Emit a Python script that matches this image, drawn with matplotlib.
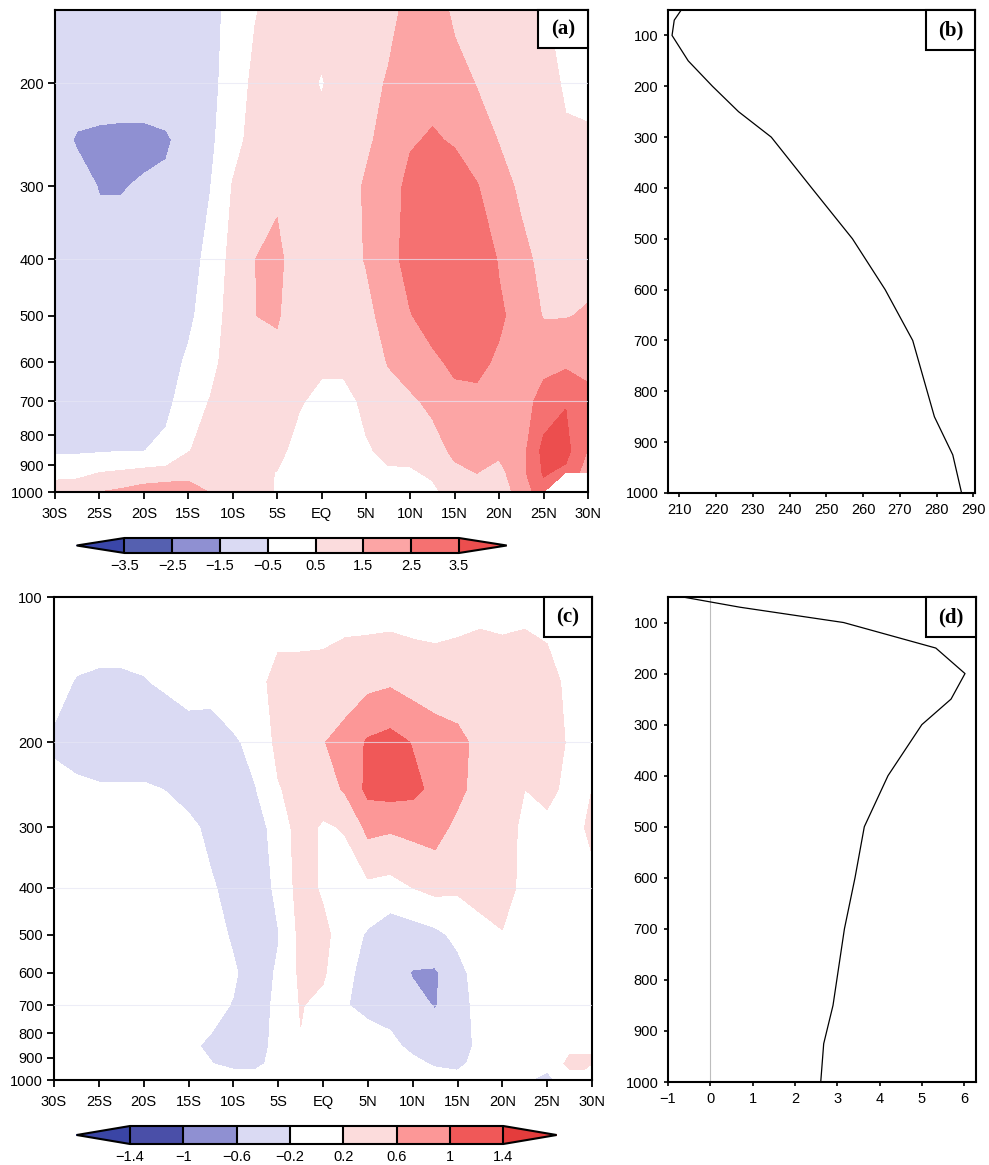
import numpy as np
import matplotlib
matplotlib.use('Agg')
import matplotlib.pyplot as plt
from matplotlib import colors as mcolors
from matplotlib.patches import Rectangle

plt.rcParams['font.family'] = ['Liberation Sans', 'DejaVu Sans']
plt.rcParams['axes.linewidth'] = 1.5

nan = np.nan

# latitude grid, 30S..30N every 2.5 deg
lats = [-30, -27.5, -25, -22.5, -20, -17.5, -15, -12.5, -10, -7.5, -5, -2.5, 0,
        2.5, 5, 7.5, 10, 12.5, 15, 17.5, 20, 22.5, 25, 27.5, 30]
lat_ticks = [-30, -25, -20, -15, -10, -5, 0, 5, 10, 15, 20, 25, 30]
lat_labels = ['30S', '25S', '20S', '15S', '10S', '5S', 'EQ', '5N', '10N', '15N', '20N', '25N', '30N']

# panel (a): one row per latitude, values at lev_a
lev_a = [150, 200, 250, 300, 400, 500, 600, 700, 850, 925, 1000]
field_a = [
    [-1.0, -1.0, -1.1, -1.0, -1.0, -1.0, -1.0, -0.9, -0.7, 0.37, 0.7],
    [-1.0, -1.0, -1.6, -1.1, -1.0, -1.0, -1.0, -0.9, -0.65, 0.3, 0.9],
    [-1.0, -1.0, -1.7, -1.55, -1.1, -1.0, -1.0, -0.9, -0.6, 0.48, 1.5],
    [-1.0, -1.0, -1.75, -1.55, -1.1, -1.0, -1.0, -0.9, -0.53, 0.6, 1.7],
    [-1.0, -1.0, -1.75, -1.4, -1.1, -1.0, -1.0, -0.85, -0.52, 0.75, 2.0],
    [-1.0, -1.05, -1.6, -1.35, -1.1, -1.0, -0.9, -0.75, -0.25, 0.8, 2.2],
    [-1.0, -1.0, -1.2, -1.1, -0.9, -0.7, -0.35, 0.0, 0.45, 1.1, 2.0],
    [-0.9, -0.8, -0.7, -0.52, -0.2, 0.0, 0.2, 0.55, 0.9, 1.1, 1.45],
    [-0.1, 0.0, 0.2, 0.55, 0.8, 0.9, 1.0, 1.0, 1.0, 1.0, 1.0],
    [0.45, 0.7, 0.8, 0.9, 1.49, 1.49, 1.0, 0.9, 0.8, 0.7, 0.6],
    [0.8, 0.9, 1.0, 1.3, 1.8, 1.6, 1.2, 1.0, 0.8, 0.47, 0.48],
    [0.9, 0.9, 0.9, 0.9, 0.8, 0.9, 0.9, 0.6, 0.1, 0.0, 0.0],
    [0.9, 0.42, 0.9, 0.9, 0.9, 0.9, 0.7, 0.2, 0.0, 0.0, 0.0],
    [1.0, 1.0, 1.0, 1.1, 1.1, 1.0, 0.7, 0.2, 0.1, 0.0, 0.0],
    [1.0, 1.1, 1.35, 1.6, 1.55, 1.2, 0.9, 0.7, 0.4, 0.2, 0.2],
    [1.2, 1.6, 1.8, 2.0, 2.1, 1.9, 1.55, 1.1, 0.7, 0.4, 0.3],
    [1.8, 2.0, 2.4, 2.8, 2.9, 2.45, 1.9, 1.35, 0.8, 0.4, 0.35],
    [2.0, 2.2, 2.6, 3.0, 3.1, 2.9, 2.3, 1.7, 1.1, 0.65, 0.3],
    [1.3, 1.9, 2.4, 3.0, 3.3, 3.2, 2.7, 2.2, 1.7, 1.3, 0.9],
    [1.0, 1.45, 2.0, 2.55, 3.3, 3.2, 2.8, 2.2, 1.8, 1.52, 1.1],
    [0.9, 1.1, 1.45, 1.9, 2.4, 2.7, 2.3, 2.0, 1.7, 1.2, 1.1],
    [0.9, 1.0, 1.1, 1.3, 1.8, 2.0, 2.0, 2.0, 2.1, 2.2, 1.8],
    [0.55, 0.8, 0.9, 1.0, 1.2, 1.45, 2.2, 2.9, 3.8, 3.6, 3.2],
    [0.3, 0.4, 0.6, 0.8, 1.2, 1.45, 2.3, 3.45, 3.8, 3.3, nan],
    [0.2, 0.3, 0.6, 0.9, 1.2, 1.6, 2.2, 2.8, 2.45, 2.0, nan],
]

# panel (c): one row per latitude, values at lev_c
lev_c = [100, 150, 200, 250, 300, 400, 500, 600, 700, 850, 925, 1000]
field_c = [
    [0.0, -0.1, -0.25, -0.1, 0.0, 0.0, 0.0, 0.0, 0.0, 0.0, 0.0, 0.0],
    [0.0, -0.22, -0.4, -0.1, 0.0, 0.0, 0.0, 0.0, 0.0, 0.0, 0.0, 0.0],
    [0.0, -0.25, -0.45, -0.15, 0.0, 0.0, 0.0, 0.0, 0.0, 0.0, 0.0, 0.0],
    [0.0, -0.25, -0.45, -0.15, 0.0, 0.0, 0.0, 0.0, 0.0, 0.0, 0.0, 0.0],
    [0.0, -0.22, -0.45, -0.15, 0.0, 0.0, 0.0, 0.0, 0.0, 0.0, 0.0, 0.0],
    [0.0, -0.15, -0.45, -0.21, -0.05, 0.0, 0.0, 0.0, 0.0, 0.0, 0.0, 0.0],
    [0.0, -0.05, -0.4, -0.35, -0.1, -0.05, -0.05, -0.05, -0.05, -0.15, -0.1, 0.0],
    [0.0, -0.1, -0.35, -0.35, -0.3, -0.15, -0.05, -0.1, -0.1, -0.25, -0.19, 0.0],
    [0.0, 0.0, -0.25, -0.4, -0.4, -0.35, -0.25, -0.15, -0.22, -0.35, -0.3, 0.0],
    [0.0, 0.1, -0.1, -0.21, -0.4, -0.45, -0.45, -0.4, -0.4, -0.4, -0.3, 0.0],
    [0.05, 0.3, 0.3, 0.17, 0.0, -0.1, -0.22, -0.15, -0.1, -0.05, -0.05, 0.0],
    [0.05, 0.3, 0.35, 0.35, 0.35, 0.35, 0.3, 0.27, 0.22, 0.18, 0.05, 0.0],
    [0.0, 0.35, 0.58, 0.4, 0.15, 0.15, 0.3, 0.25, 0.1, 0.0, 0.0, 0.0],
    [0.05, 0.4, 0.75, 0.65, 0.23, 0.0, 0.0, -0.1, -0.19, -0.05, 0.0, 0.0],
    [0.0, 0.5, 1.05, 1.1, 0.7, 0.1, -0.25, -0.35, -0.25, -0.1, 0.0, 0.0],
    [0.0, 0.55, 1.15, 1.15, 0.65, 0.05, -0.45, -0.45, -0.35, -0.1, 0.0, 0.0],
    [0.0, 0.45, 0.98, 1.1, 0.7, 0.2, -0.4, -0.62, -0.5, -0.3, -0.1, 0.0],
    [0.0, 0.4, 0.8, 0.9, 0.75, 0.3, -0.3, -0.65, -0.62, -0.4, -0.25, 0.0],
    [0.05, 0.4, 0.7, 0.7, 0.5, 0.25, -0.1, -0.35, -0.4, -0.4, -0.3, -0.05],
    [0.1, 0.4, 0.5, 0.45, 0.4, 0.3, 0.1, 0.0, -0.05, -0.1, -0.05, 0.0],
    [0.1, 0.35, 0.4, 0.4, 0.4, 0.35, 0.18, 0.05, 0.0, 0.0, 0.0, 0.0],
    [0.1, 0.4, 0.4, 0.2, 0.1, 0.1, 0.05, 0.0, 0.0, 0.0, -0.1, -0.15],
    [0.05, 0.35, 0.4, 0.3, 0.1, 0.0, 0.0, 0.0, 0.0, 0.0, -0.1, -0.3],
    [0.0, 0.1, 0.15, 0.1, 0.0, 0.0, 0.0, 0.0, 0.0, 0.1, 0.3, 0.0],
    [0.0, 0.0, 0.05, 0.2, 0.3, 0.05, 0.0, 0.0, 0.0, 0.1, 0.3, nan],
]

levels_a = [-3.5, -2.5, -1.5, -0.5, 0.5, 1.5, 2.5, 3.5]
labels_a = ['\u22123.5', '\u22122.5', '\u22121.5', '\u22120.5', '0.5', '1.5', '2.5', '3.5']
colors_a = ['#3a46a8', '#5560b0', '#8f90d2', '#dadaf3', '#ffffff',
            '#fbdcdd', '#fca5a5', '#f57171', '#ec4e4e']

levels_c = [-1.4, -1.0, -0.6, -0.2, 0.2, 0.6, 1.0, 1.4]
labels_c = ['\u22121.4', '\u22121', '\u22120.6', '\u22120.2', '0.2', '0.6', '1', '1.4']
colors_c = ['#3a45a5', '#4a4fa8', '#8f90d2', '#dadaf3', '#ffffff',
            '#fcdcdc', '#fc9797', '#f05858', '#e43c3c']

# panel (b): temperature profile
lev_b = [1000, 925, 850, 700, 600, 500, 400, 300, 250, 200, 150, 100, 70, 50]
temp_b = [286.8, 284.4, 279.4, 273.5, 266.0, 257.1, 246.0, 235.0, 226.1, 219.0, 212.4, 208.0, 208.6, 210.5]

# panel (d): profile
lev_d = [1000, 925, 850, 700, 600, 500, 400, 300, 250, 200, 150, 100, 70, 50]
val_d = [2.61, 2.68, 2.9, 3.17, 3.42, 3.64, 4.2, 5.0, 5.69, 6.02, 5.33, 3.15, 0.7, -0.65]

W, H = 989, 1165
fig = plt.figure(figsize=(W / 100, H / 100), dpi=100)


def box(x0, x1, y0, y1):
    # pixel box -> figure fraction
    return [x0 / W, 1 - y1 / H, (x1 - x0) / W, (y1 - y0) / H]


def panel_tag(ax, text, w, h):
    ax.add_patch(Rectangle((1 - w, 1 - h), w, h, transform=ax.transAxes,
                           facecolor='white', edgecolor='black', lw=1.5,
                           zorder=10, clip_on=False))
    ax.text(1 - w / 2, 1 - h / 2, text, transform=ax.transAxes, ha='center',
            va='center', fontsize=15, fontweight='bold',
            family=['Liberation Serif', 'DejaVu Serif'], zorder=11)


def section(ax, cax, field, levs, levels, colors, labels, ylim, yticks):
    cmap, norm = mcolors.from_levels_and_colors(levels, colors, extend='both')
    z = np.ma.masked_invalid(np.array(field).T)
    cf = ax.contourf(lats, levs, z, levels=levels, cmap=cmap, norm=norm, extend='both')
    for p in (200, 400, 700):
        ax.axhline(p, color='#e6e6f5', lw=0.8, alpha=0.7, zorder=3)
    ax.set_yscale('log')
    ax.set_ylim(*ylim)
    ax.set_xlim(-30, 30)
    ax.set_yticks(yticks)
    ax.set_yticklabels([str(t) for t in yticks])
    ax.yaxis.set_minor_locator(matplotlib.ticker.NullLocator())
    ax.set_xticks(lat_ticks)
    ax.set_xticklabels(lat_labels)
    ax.tick_params(axis='x', direction='out', length=5, width=1.3, pad=6, labelsize=10.5)
    ax.tick_params(axis='y', direction='out', length=5, width=1.3, pad=3, labelsize=10.5)
    cb = fig.colorbar(cf, cax=cax, orientation='horizontal', extendfrac='auto',
                      drawedges=True, ticks=levels)
    cb.outline.set_linewidth(1.5)
    cb.dividers.set_linewidth(1.5)
    cb.ax.set_xticklabels(labels)
    cb.ax.tick_params(length=0, labelsize=10.5, pad=4)


def profile(ax, x, p, xlim, xticks):
    ax.plot(x, p, color='black', lw=0.9)
    ax.set_ylim(1000, 50)
    ax.set_xlim(*xlim)
    ax.set_yticks(range(100, 1001, 100))
    ax.set_xticks(xticks)
    ax.tick_params(direction='out', length=3, width=1.2, pad=4, labelsize=10.5)


ax_a = fig.add_axes(box(55, 588, 10, 492))
cax_a = fig.add_axes(box(76.7, 506.7, 538, 553))
section(ax_a, cax_a, field_a, lev_a, levels_a, colors_a, labels_a, (1000, 150),
        [200, 300, 400, 500, 600, 700, 800, 900, 1000])
panel_tag(ax_a, '(a)', 50 / 533, 38 / 482)

ax_c = fig.add_axes(box(54, 592, 597, 1080))
cax_c = fig.add_axes(box(76.7, 556.6, 1126, 1144))
section(ax_c, cax_c, field_c, lev_c, levels_c, colors_c, labels_c, (1000, 100),
        [100, 200, 300, 400, 500, 600, 700, 800, 900, 1000])
panel_tag(ax_c, '(c)', 48 / 538, 40 / 483)

ax_b = fig.add_axes(box(668, 975, 10, 493))
profile(ax_b, temp_b, lev_b, (206.9, 290.45), range(210, 291, 10))
panel_tag(ax_b, '(b)', 49 / 307, 40 / 483)

ax_d = fig.add_axes(box(668, 976, 597, 1082))
ax_d.axvline(0, color='#bdbdbd', lw=0.8)
profile(ax_d, val_d, lev_d, (-1, 6.28), range(-1, 7))
panel_tag(ax_d, '(d)', 50 / 308, 40 / 485)

fig.savefig('out.png', dpi=100)
